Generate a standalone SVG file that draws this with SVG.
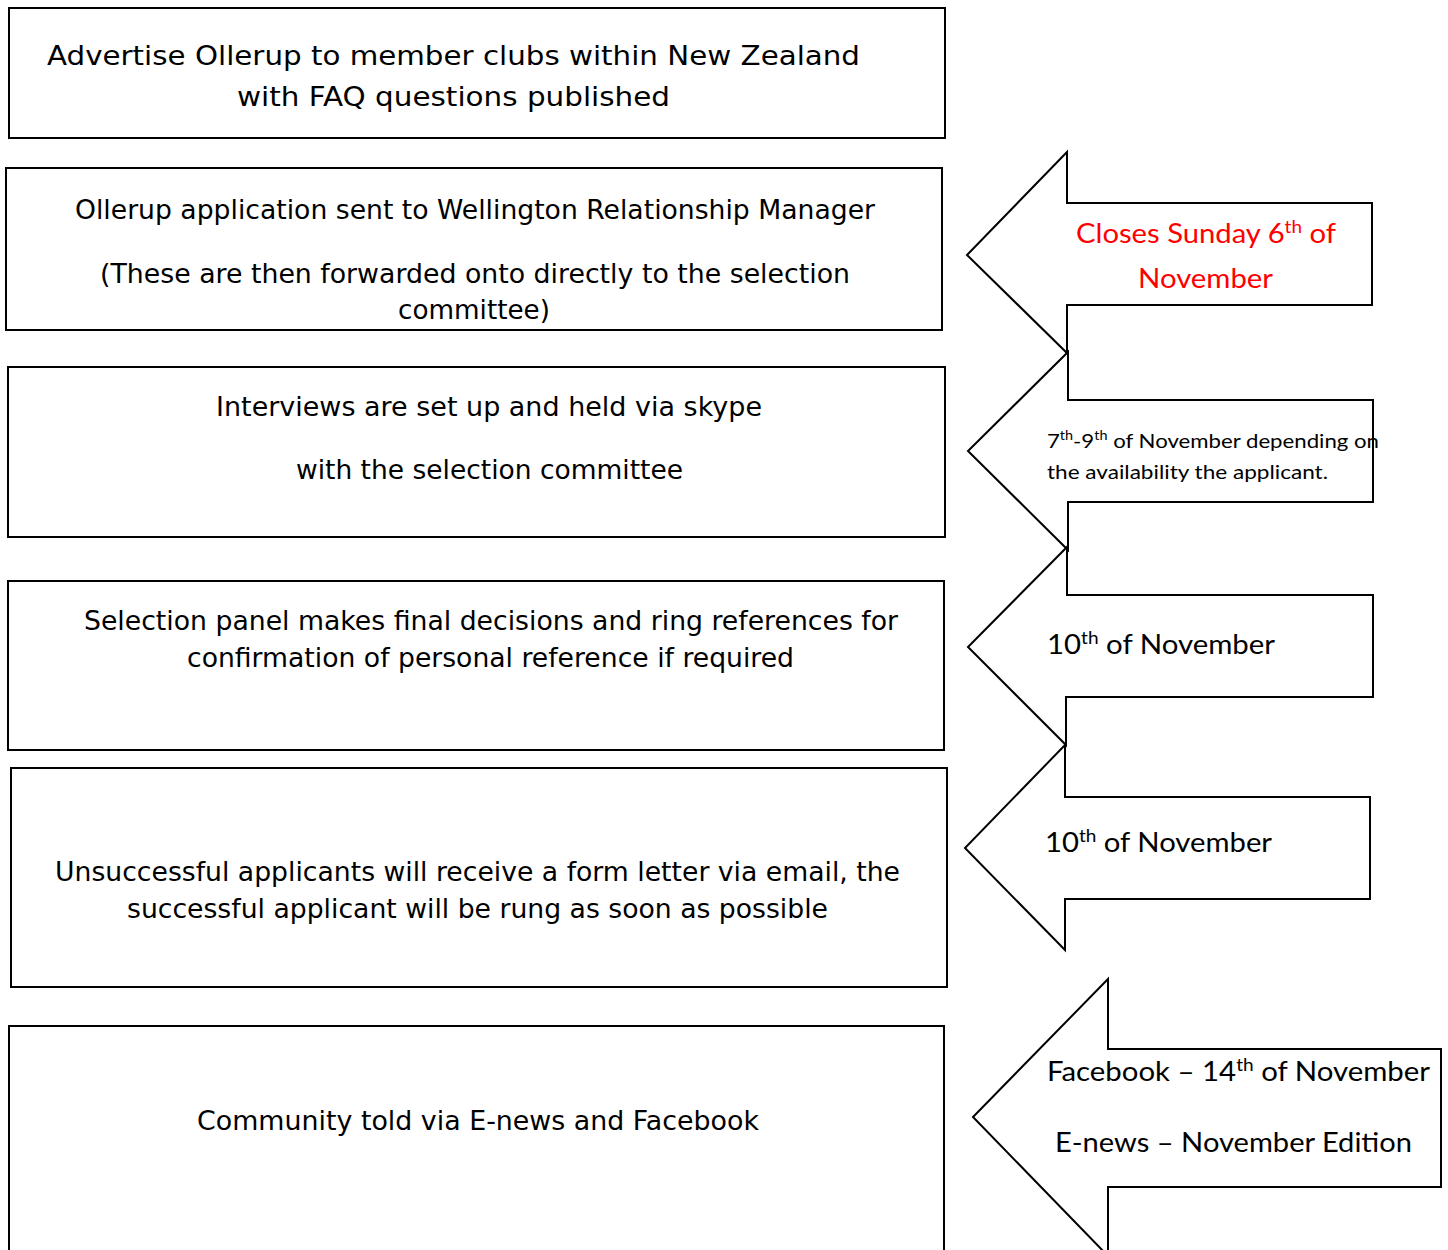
<svg xmlns="http://www.w3.org/2000/svg" width="1448" height="1250" viewBox="0 0 1448 1250">
<style>
.box{fill:#fff;stroke:#000;stroke-width:2}
.arr{fill:#fff;stroke:#000;stroke-width:2;stroke-linejoin:miter}
.bt{font-family:"DejaVu Sans","Liberation Sans",sans-serif;font-size:26px;fill:#000;text-anchor:start}
.at{font-family:Lato,"Open Sans","Liberation Sans",sans-serif;font-size:26px;fill:#000}
.sm{font-size:20px}
.red{fill:#ff0000}
.sup{font-size:65%}
</style>
<rect width="1448" height="1250" fill="#fff"/>
<g id="step1">
<rect class="box" x="9" y="8" width="936" height="130"/>
<text class="bt" x="47" y="65" textLength="813" lengthAdjust="spacingAndGlyphs">Advertise Ollerup to member clubs within New Zealand</text>
<text class="bt" x="237" y="106" textLength="433" lengthAdjust="spacingAndGlyphs">with FAQ questions published</text>
</g>
<g id="step2">
<rect class="box" x="6" y="168" width="936" height="162"/>
<text class="bt" x="75" y="219" textLength="800" lengthAdjust="spacingAndGlyphs">Ollerup application sent to Wellington Relationship Manager</text>
<text class="bt" x="100" y="283" textLength="750" lengthAdjust="spacingAndGlyphs">(These are then forwarded onto directly to the selection</text>
<text class="bt" x="398" y="319" textLength="152" lengthAdjust="spacingAndGlyphs">committee)</text>
</g>
<g id="step3">
<rect class="box" x="8" y="367" width="937" height="170"/>
<text class="bt" x="216" y="416" textLength="546" lengthAdjust="spacingAndGlyphs">Interviews are set up and held via skype</text>
<text class="bt" x="296" y="479" textLength="387" lengthAdjust="spacingAndGlyphs">with the selection committee</text>
</g>
<g id="step4">
<rect class="box" x="8" y="581" width="936" height="169"/>
<text class="bt" x="84" y="630" textLength="814" lengthAdjust="spacingAndGlyphs">Selection panel makes final decisions and ring references for</text>
<text class="bt" x="187" y="667" textLength="607" lengthAdjust="spacingAndGlyphs">confirmation of personal reference if required</text>
</g>
<g id="step5">
<rect class="box" x="11" y="768" width="936" height="219"/>
<text class="bt" x="55" y="881" textLength="845" lengthAdjust="spacingAndGlyphs">Unsuccessful applicants will receive a form letter via email, the</text>
<text class="bt" x="127" y="918" textLength="701" lengthAdjust="spacingAndGlyphs">successful applicant will be rung as soon as possible</text>
</g>
<g id="step6">
<rect class="box" x="9" y="1026" width="935" height="240"/>
<text class="bt" x="197" y="1130" textLength="562" lengthAdjust="spacingAndGlyphs">Community told via E-news and Facebook</text>
</g>
<g id="connectors">
<g id="arrow1">
<polygon class="arr" points="1067,152 1067,203 1372,203 1372,305 1067,305 1067,353 967,255"/>
<text class="at red" x="1076" y="243" textLength="260" lengthAdjust="spacingAndGlyphs">Closes Sunday 6<tspan class="sup" dy="-10">th</tspan><tspan dy="10"> of</tspan></text>
<text class="at red" x="1138" y="288" textLength="135" lengthAdjust="spacingAndGlyphs">November</text>
</g>
<g id="arrow2">
<polygon class="arr" points="1068,352 1068,400 1373,400 1373,502 1068,502 1068,550 968,451"/>
<text class="at sm" x="1047" y="448" textLength="332" lengthAdjust="spacingAndGlyphs">7<tspan class="sup" dy="-8">th</tspan><tspan dy="8">-9</tspan><tspan class="sup" dy="-8">th</tspan><tspan dy="8"> of November depending on</tspan></text>
<text class="at sm" x="1047" y="479" textLength="281" lengthAdjust="spacingAndGlyphs">the availability the applicant.</text>
</g>
<g id="arrow3">
<polygon class="arr" points="1067,547 1067,595 1373,595 1373,697 1066,697 1066,745 968,647"/>
<text class="at" x="1047" y="654" textLength="228" lengthAdjust="spacingAndGlyphs">10<tspan class="sup" dy="-10">th</tspan><tspan dy="10"> of November</tspan></text>
</g>
<g id="arrow4">
<polygon class="arr" points="1065,745 1065,797 1370,797 1370,899 1065,899 1065,950 965,848"/>
<text class="at" x="1045" y="852" textLength="227" lengthAdjust="spacingAndGlyphs">10<tspan class="sup" dy="-10">th</tspan><tspan dy="10"> of November</tspan></text>
</g>
<g id="arrow5">
<polygon class="arr" points="1108,979 1108,1049 1441,1049 1441,1187 1108,1187 1108,1256 973,1117"/>
<text class="at" x="1047" y="1081" textLength="383" lengthAdjust="spacingAndGlyphs">Facebook – 14<tspan class="sup" dy="-10">th</tspan><tspan dy="10"> of November</tspan></text>
<text class="at" x="1055" y="1152" textLength="357" lengthAdjust="spacingAndGlyphs">E-news – November Edition</text>
</g>
</g>
</svg>
